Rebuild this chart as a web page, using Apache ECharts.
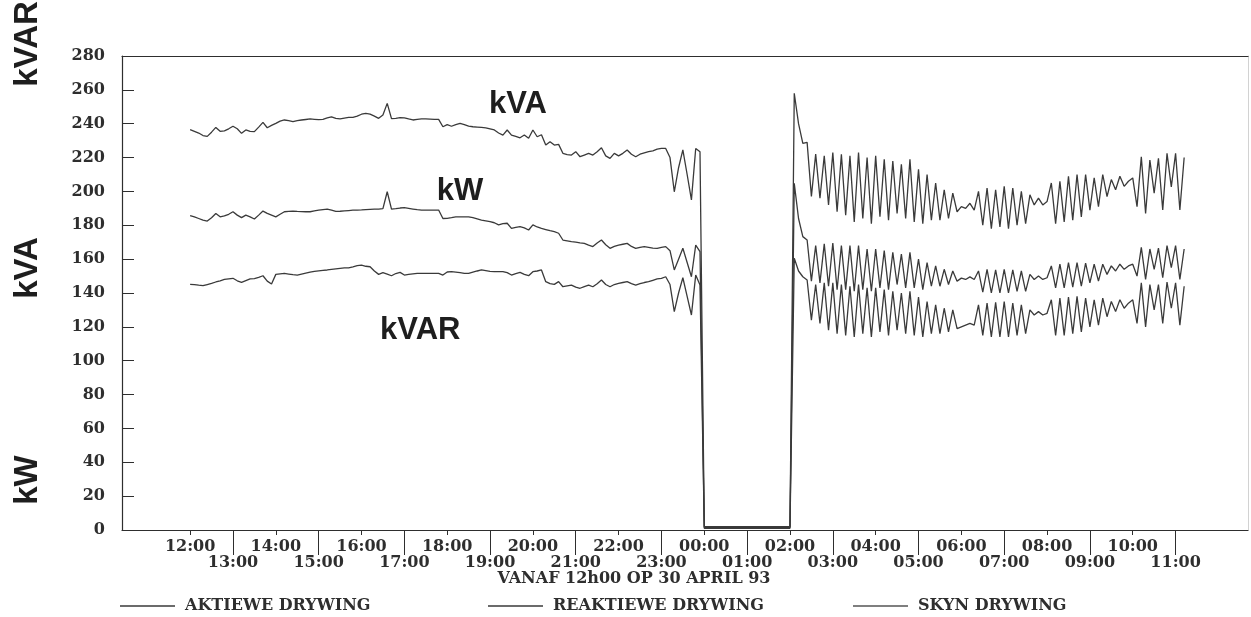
<!DOCTYPE html>
<html>
<head>
    <meta charset="utf-8"/>
    <title>Aktiewe, reaktiewe en skyn drywing</title>
    <style>
        html, body { margin: 0; padding: 0; background: #fff; }
        #main { width: 1251px; height: 617px; }
    </style>
</head>
<body>

<div id="main"></div>

<script src="https://cdn.jsdelivr.net/npm/echarts@6/dist/echarts.min.js"></script>
<script>

    // one sample every 6 minutes (0.1 h), hour 0 = 12:00 on 30 April 93
    let stepHours = 0.1;

    let hourLabels = ['12:00', '13:00', '14:00', '15:00', '16:00', '17:00', '18:00', '19:00',
        '20:00', '21:00', '22:00', '23:00', '00:00', '01:00', '02:00', '03:00',
        '04:00', '05:00', '06:00', '07:00', '08:00', '09:00', '10:00', '11:00'];
    let tickHours = [0, 1, 2, 3, 4, 5, 6, 7, 8, 9, 10, 11, 12, 13, 14, 15, 16, 17, 18, 19, 20, 21, 22, 23];
    let evenHours = [0, 2, 4, 6, 8, 10, 12, 14, 16, 18, 20, 22];
    let oddHours = [1, 3, 5, 7, 9, 11, 13, 15, 17, 19, 21, 23];

    // SKYN DRYWING (kVA)
    let kva = [
        236.5, 235.5, 234.5, 233, 232.5, 235, 237.8, 235.5, 235.8, 237,
        238.5, 237, 234.3, 236.3, 235.5, 235.3, 238, 240.8, 237.6, 239,
        240.2, 241.5, 242.2, 241.8, 241.2, 241.8, 242.2, 242.5, 242.8, 242.6,
        242.4, 242.6, 243.4, 244.1, 243.2, 242.9, 243.3, 243.7, 243.8, 244.5,
        245.6, 246.1, 245.7, 244.5, 243.2, 245.1, 252, 243, 243.2, 243.6,
        243.5, 242.8, 242.2, 242.6, 242.8, 242.8, 242.7, 242.6, 242.6, 238.2,
        239.5, 238.5, 239.5, 240.2, 239.5, 238.6, 238.2, 238, 237.8, 237.6,
        237, 236.3, 234.5, 233.3, 236.3, 233.3, 232.5, 231.7, 233.3, 231.4,
        236.3, 232.3, 233.5, 227.4, 229.4, 227.4, 227.8, 222.5, 221.8, 221.5,
        223.5, 220.5, 221.5, 222.5, 221.5, 223.5, 225.8, 221, 219.5, 222.5,
        221, 222.5, 224.5, 222, 220.5, 222, 222.8, 223.5, 224, 225,
        225.4, 225.4, 220, 199.8, 214, 224.5, 210, 195, 225.4, 223.5,
        2, 2, 2, 2, 2, 2, 2, 2, 2, 2,
        2, 2, 2, 2, 2, 2, 2, 2, 2, 2,
        2, 258, 240, 228.4, 229, 197, 222, 196, 221, 192,
        223, 188, 222, 186, 221, 182, 223, 184, 220, 181,
        221, 185, 219, 183, 218, 187, 216, 184, 219, 182,
        213, 181, 210, 183, 205, 183, 201, 184, 199, 188,
        191, 190, 193, 189, 200, 180, 202, 178, 201, 179,
        203, 178, 202, 180, 200, 181, 198, 192, 196, 192,
        194, 205, 181, 206, 182, 209, 183, 210, 185, 210,
        189, 208, 191, 210, 197, 207, 201, 209, 203, 206,
        208, 191, 220.5, 187, 218.5, 199, 219.5, 189, 222.5, 202.7,
        222.5, 189, 220
    ];

    // AKTIEWE DRYWING (kW)
    let kw = [
        185.7, 185, 184, 183, 182.5, 184.5, 187, 185, 185.5, 186.5,
        188, 186, 184.5, 186, 185, 183.7, 186, 188.4, 187, 186,
        185, 186.5, 188, 188.2, 188.4, 188.2, 188.1, 188, 188, 188.5,
        189, 189.3, 189.6, 189, 188.2, 188.3, 188.5, 188.7, 188.9, 189,
        189.1, 189.3, 189.4, 189.5, 189.6, 189.8, 199.8, 189.6, 189.8, 190.2,
        190.4, 190, 189.6, 189.2, 189, 189, 189, 189, 189, 184,
        184.1, 184.5, 185, 185, 185, 185, 184.5, 183.8, 183.1, 182.6,
        182.1, 181.5, 180.2, 181, 181.2, 178.2, 178.8, 179.2, 178.5, 177.2,
        180.2, 179, 178.2, 177.5, 176.8, 176.2, 175.3, 171.3, 170.8, 170.3,
        170, 169.6, 169.3, 168.3, 167.4, 169.5, 171.3, 168.5, 166.4, 167.5,
        168.3, 168.8, 169.3, 167.5, 166.4, 167, 167.4, 167, 166.5, 166.4,
        167, 167.4, 165, 153.6, 160, 166.4, 158, 149.6, 168.3, 164.4,
        1.5, 1.5, 1.5, 1.5, 1.5, 1.5, 1.5, 1.5, 1.5, 1.5,
        1.5, 1.5, 1.5, 1.5, 1.5, 1.5, 1.5, 1.5, 1.5, 1.5,
        1.5, 204.8, 184, 173.3, 171.3, 147, 168, 146, 169, 144,
        169.5, 142, 168, 142, 168, 141, 168, 142, 166, 141,
        166, 143, 165, 142, 164, 145, 163, 143, 164, 143,
        160, 142, 158, 144, 156, 144, 154, 145, 153, 147,
        148.8, 148, 149.5, 148, 153, 140.5, 154, 140, 153.6, 140,
        154, 140, 153.6, 141, 153, 141, 151, 148, 150, 148,
        149, 156, 143, 157, 143, 158, 143.5, 158, 144, 157.7,
        146, 157, 147, 157, 151, 156, 153, 157, 154, 156,
        157, 150, 167, 148, 166, 154, 166.5, 149, 168, 155,
        168, 148, 166
    ];

    // REAKTIEWE DRYWING (kVAR)
    let kvar = [
        145.1, 145, 144.6, 144.3, 145, 145.7, 146.5, 147.2, 148, 148.4,
        148.7, 147.2, 146.3, 147.3, 148.3, 148.5, 149.2, 150.2, 147, 145.3,
        151, 151.3, 151.6, 151.2, 150.8, 150.6, 151.2, 151.8, 152.3, 152.8,
        153.1, 153.4, 153.6, 154, 154.3, 154.6, 154.8, 154.9, 155.5, 156.2,
        156.5, 155.8, 155.5, 153, 151, 152, 151.2, 150.2, 151.5, 152.2,
        150.6, 151, 151.3, 151.6, 151.6, 151.6, 151.6, 151.6, 151.6, 150.6,
        152.4, 152.6, 152.3, 152, 151.6, 151.6, 152.3, 153, 153.6, 153.2,
        152.8, 152.6, 152.6, 152.6, 152, 150.6, 151.5, 152.2, 151, 150.2,
        152.6, 153, 153.6, 146.7, 145.5, 145.1, 146.7, 143.7, 144.2, 144.7,
        143.5, 142.8, 143.8, 144.7, 143.7, 145.5, 147.7, 145, 143.7, 145,
        145.7, 146.2, 146.7, 145.5, 144.7, 145.5, 146.2, 146.7, 147.5, 148.3,
        148.7, 149.6, 145, 129, 140, 149, 138, 127, 150.6, 144.7,
        1, 1, 1, 1, 1, 1, 1, 1, 1, 1,
        1, 1, 1, 1, 1, 1, 1, 1, 1, 1,
        1, 160.5, 153, 149.6, 147.7, 124, 145, 122, 146, 118,
        146, 116, 145, 115, 144, 114, 145, 116, 143, 114,
        143, 117, 142, 115, 141, 118, 140, 116, 141, 115,
        137.6, 114, 135, 116, 133, 116, 131, 117, 130, 119,
        120, 121, 122, 121, 133, 115, 134, 114, 134.5, 114,
        135, 114, 134, 115, 133, 116, 130, 127, 129, 127,
        128, 136, 115, 137, 115, 137.6, 116, 138, 117, 137,
        120, 136, 121, 137, 126, 135, 129, 136, 131, 134,
        136, 122, 146, 120, 145, 130, 145, 122, 146.5, 131,
        146, 121, 144
    ];

    let ink = '#2e2e2e';
    let serif = '"DejaVu Serif", serif';
    let sans = '"Liberation Sans", Arial, sans-serif';

    function toPoints(values) {
        return values.map(function (v, i) {
            return [Math.round(i * stepHours * 10) / 10, v];
        });
    }

    function tag(text, hour, value) {
        return {
            coord: [hour, value],
            symbol: 'circle',
            symbolSize: 1,
            itemStyle: {color: 'rgba(0,0,0,0)'},
            label: {
                show: true, position: 'inside', formatter: text,
                fontFamily: sans, fontWeight: 'bold', fontSize: 31, color: '#1e1e1e'
            }
        };
    }

    function hourText(v) {
        return hourLabels[Math.round(v)];
    }

    let xMin = -1.59, xMax = 24.69;
    let tickFont = {fontFamily: serif, fontWeight: 'bold', fontSize: 16, color: ink};

    let myChart = echarts.init(document.getElementById('main'));
    let option = {
        animation: false,
        backgroundColor: '#ffffff',
        grid: {left: 122, right: 3, top: 56, bottom: 87},
        xAxis: [
            {
                // even hours, first row
                type: 'value', min: xMin, max: xMax, position: 'bottom',
                axisLine: {show: true, onZero: false, lineStyle: {color: ink, width: 1.2}},
                axisTick: {show: true, customValues: tickHours, length: 5, lineStyle: {color: ink}},
                axisLabel: Object.assign({
                    show: true, customValues: evenHours, margin: 9,
                    showMinLabel: true, showMaxLabel: true, formatter: hourText
                }, tickFont),
                splitLine: {show: false}
            },
            {
                // odd hours, second row, with the long separators
                type: 'value', min: xMin, max: xMax, position: 'bottom', offset: 0,
                axisLine: {show: false, onZero: false},
                axisTick: {show: true, customValues: oddHours, length: 25, lineStyle: {color: ink}},
                axisLabel: Object.assign({
                    show: true, customValues: oddHours, margin: 25,
                    showMinLabel: true, showMaxLabel: true, formatter: hourText
                }, tickFont),
                splitLine: {show: false}
            },
            {
                type: 'value', min: xMin, max: xMax, position: 'top',
                axisLine: {show: true, onZero: false, lineStyle: {color: ink, width: 1.2}},
                axisTick: {show: false},
                axisLabel: {show: false},
                splitLine: {show: false}
            }
        ],
        yAxis: [
            {
                type: 'value', min: 0, max: 280, interval: 20, position: 'left',
                axisLine: {show: true, onZero: false, lineStyle: {color: ink, width: 1.2}},
                axisTick: {show: true, inside: true, length: 12, lineStyle: {color: ink}},
                axisLabel: Object.assign({margin: 17}, tickFont),
                splitLine: {show: false}
            },
            {
                type: 'value', min: 0, max: 280, position: 'right',
                axisLine: {show: true, onZero: false, lineStyle: {color: '#d2d2d2', width: 1}},
                axisTick: {show: false},
                axisLabel: {show: false},
                splitLine: {show: false}
            }
        ],
        legend: [
            {data: ['AKTIEWE DRYWING'], left: 115},
            {data: ['REAKTIEWE DRYWING'], left: 483},
            {data: ['SKYN DRYWING'], left: 848}
        ].map(function (l) {
            return Object.assign(l, {
                top: 593, icon: 'rect', itemWidth: 55, itemHeight: 1.5,
                textStyle: {fontFamily: serif, fontWeight: 'bold', fontSize: 16, color: ink, padding: [0, 0, 0, 5]}
            });
        }),
        graphic: [
            {
                type: 'text', x: 28, y: 44, rotation: Math.PI / 2,
                style: {text: 'kVAR', font: 'bold 33px ' + sans, fill: '#1e1e1e', align: 'center', verticalAlign: 'middle'}
            },
            {
                type: 'text', x: 28, y: 268, rotation: Math.PI / 2,
                style: {text: 'kVA', font: 'bold 33px ' + sans, fill: '#1e1e1e', align: 'center', verticalAlign: 'middle'}
            },
            {
                type: 'text', x: 28, y: 480, rotation: Math.PI / 2,
                style: {text: 'kW', font: 'bold 33px ' + sans, fill: '#1e1e1e', align: 'center', verticalAlign: 'middle'}
            },
            {
                type: 'text', x: 634, y: 579,
                style: {text: 'VANAF 12h00 OP 30 APRIL 93', font: 'bold 16px ' + serif, fill: ink, align: 'center', verticalAlign: 'middle'}
            }
        ],
        series: [
            {
                name: 'AKTIEWE DRYWING', type: 'line', data: toPoints(kw),
                showSymbol: false, symbol: 'none',
                lineStyle: {color: '#3a3a3a', width: 1.3}, itemStyle: {color: '#3a3a3a'},
                markPoint: {data: [tag('kW', 6.3, 200)]}
            },
            {
                name: 'REAKTIEWE DRYWING', type: 'line', data: toPoints(kvar),
                showSymbol: false, symbol: 'none',
                lineStyle: {color: '#3a3a3a', width: 1.3}, itemStyle: {color: '#3a3a3a'},
                markPoint: {data: [tag('kVAR', 5.37, 118)]}
            },
            {
                name: 'SKYN DRYWING', type: 'line', data: toPoints(kva),
                showSymbol: false, symbol: 'none',
                lineStyle: {color: '#3a3a3a', width: 1.3}, itemStyle: {color: '#555555'},
                markPoint: {data: [tag('kVA', 7.65, 251.6)]}
            }
        ]
    };
    myChart.setOption(option);

</script>

</body>
</html>
